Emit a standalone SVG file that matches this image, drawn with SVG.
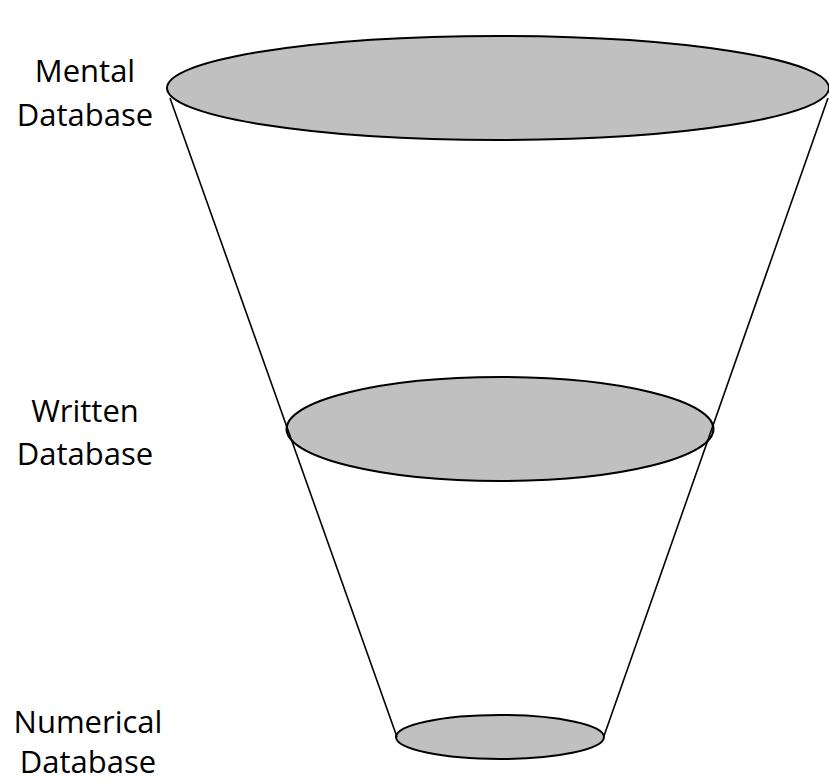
<svg xmlns="http://www.w3.org/2000/svg" width="829" height="781" viewBox="0 0 829 781">
  <style>
    .disc { fill: #c0c0c0; stroke: #000; stroke-width: 2; }
    .side { stroke: #000; stroke-width: 1.6; fill: none; }
    .label { font-family: "Open Sans", "Liberation Sans", sans-serif; font-size: 31px; fill: #000; text-anchor: middle; }
  </style>
  <rect width="829" height="781" fill="#fff"/>

  <g id="mental">
    <ellipse class="disc" cx="498" cy="88" rx="331" ry="52"/>
    <text class="label" x="85" y="82">Mental</text>
    <text class="label" x="85" y="126">Database</text>
  </g>

  <g id="written">
    <ellipse class="disc" cx="500" cy="429" rx="213.5" ry="52"/>
    <text class="label" x="85" y="422">Written</text>
    <text class="label" x="85" y="465">Database</text>
  </g>

  <g id="numerical">
    <ellipse class="disc" cx="500" cy="737" rx="104" ry="22"/>
    <text class="label" x="88" y="733">Numerical</text>
    <text class="label" x="88" y="773">Database</text>
  </g>

  <g id="connectors">
    <line class="side" x1="170" y1="98" x2="397" y2="737"/>
    <line class="side" x1="828" y1="98" x2="604" y2="736"/>
  </g>
</svg>
